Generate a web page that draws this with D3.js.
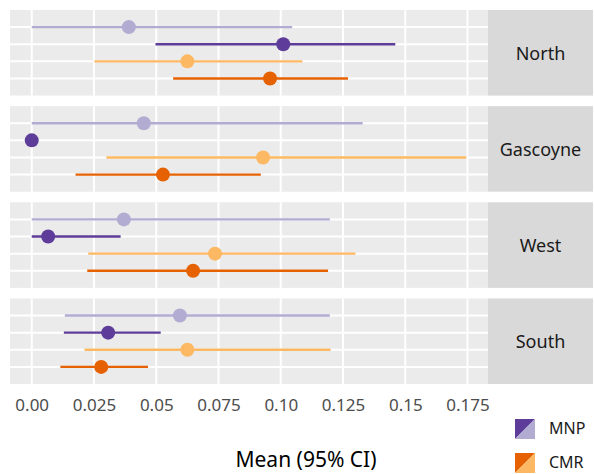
<!DOCTYPE html>
<html>
<head>
<meta charset="utf-8">
<script src="https://cdn.jsdelivr.net/npm/d3@7"></script>
<style>
  body { margin: 0; background: #fff; }
  svg { display: block; font-family: "Noto Sans", sans-serif; }
</style>
</head>
<body>
<div id="chart"></div>
<script>
// facets, top to bottom
const regions = ["North", "Gascoyne", "West", "South"];
// rows inside each facet, top to bottom
const rowKeys = ["MNP-light", "MNP-dark", "CMR-light", "CMR-dark"];
const rowColors = ["#b2abd2", "#5e3c99", "#fdb863", "#e66101"];

// one array per region: [MNP light, MNP dark, CMR light, CMR dark]
const meanValues = [
  [0.039, 0.101, 0.0625, 0.0957],
  [0.045, 0.0, 0.0929, 0.0527],
  [0.037, 0.0066, 0.0736, 0.0648],
  [0.0595, 0.0307, 0.0625, 0.0279]
];
const lowerValues = [
  [0.0, 0.0497, 0.0252, 0.0568],
  [0.0, 0.0, 0.030, 0.0176],
  [0.0, 0.0, 0.0227, 0.0223],
  [0.0133, 0.0129, 0.0212, 0.0115]
];
const upperValues = [
  [0.1046, 0.146, 0.1087, 0.127],
  [0.1329, 0.0, 0.1745, 0.092],
  [0.1197, 0.0357, 0.130, 0.119],
  [0.1197, 0.0518, 0.120, 0.0467]
];

const tickValues = [0, 0.025, 0.05, 0.075, 0.1, 0.125, 0.15, 0.175];
const tickLabels = ["0.00", "0.025", "0.05", "0.075", "0.10", "0.125", "0.15", "0.175"];

const legendLabels = ["MNP", "CMR"];
const legendDark = ["#5e3c99", "#e66101"];
const legendLight = ["#b2abd2", "#fdb863"];

const width = 594, height = 474;
const panel = {left: 10, right: 488, top: 10, bottom: 384};
const stripRight = 593;

const rows = [];
regions.forEach((r, i) => {
  rowKeys.forEach((k, j) => {
    rows.push({region: r, key: k, color: rowColors[j],
      mean: meanValues[i][j], lo: lowerValues[i][j], hi: upperValues[i][j]});
  });
});

const svg = d3.select("#chart").append("svg")
  .attr("width", width)
  .attr("height", height);

// x extent with 5% expansion like ggplot
const xmin = d3.min(rows, d => d.lo), xmax = d3.max(rows, d => d.hi);
const pad = (xmax - xmin) * 0.05;
const xScale = d3.scaleLinear()
  .domain([xmin - pad, xmax + pad])
  .range([panel.left, panel.right]);

const facetScale = d3.scaleBand()
  .domain(regions)
  .range([panel.top, panel.bottom])
  .paddingInner(0.11);

const yScale = d3.scalePoint()
  .domain(rowKeys)
  .range([0, facetScale.bandwidth()])
  .padding(1);

regions.forEach(region => {
  const g = svg.append("g")
    .attr("transform", `translate(0,${facetScale(region)})`);
  const h = facetScale.bandwidth();

  g.append("rect")
    .attr("x", panel.left).attr("y", 0)
    .attr("width", panel.right - panel.left).attr("height", h)
    .attr("fill", "#ebebeb");

  g.selectAll(".vgrid").data(tickValues).join("line")
    .attr("x1", d => xScale(d)).attr("x2", d => xScale(d))
    .attr("y1", 0).attr("y2", h)
    .attr("stroke", "#fff").attr("stroke-width", 2);

  g.selectAll(".hgrid").data(rowKeys).join("line")
    .attr("x1", panel.left).attr("x2", panel.right)
    .attr("y1", d => yScale(d)).attr("y2", d => yScale(d))
    .attr("stroke", "#fff").attr("stroke-width", 2);

  const data = rows.filter(d => d.region === region);

  g.selectAll(".ci").data(data).join("line")
    .attr("x1", d => xScale(d.lo)).attr("x2", d => xScale(d.hi))
    .attr("y1", d => yScale(d.key)).attr("y2", d => yScale(d.key))
    .attr("stroke", d => d.color).attr("stroke-width", 2.4);

  g.selectAll(".pt").data(data).join("circle")
    .attr("cx", d => xScale(d.mean)).attr("cy", d => yScale(d.key))
    .attr("r", 7)
    .attr("fill", d => d.color);

  // strip
  g.append("rect")
    .attr("x", panel.right).attr("y", 0)
    .attr("width", stripRight - panel.right).attr("height", h)
    .attr("fill", "#d9d9d9");
  g.append("text")
    .attr("x", (panel.right + stripRight) / 2).attr("y", h / 2)
    .attr("text-anchor", "middle").attr("dominant-baseline", "central")
    .attr("font-size", 18).attr("fill", "#1a1a1a")
    .text(region);
});

// x axis
const xAxis = d3.axisBottom(xScale)
  .tickValues(tickValues)
  .tickFormat((d, i) => tickLabels[i])
  .tickSize(0)
  .tickPadding(15);
const axisG = svg.append("g")
  .attr("transform", `translate(0,${panel.bottom})`)
  .call(xAxis);
axisG.select(".domain").remove();
axisG.selectAll("text")
  .attr("font-size", 17).attr("fill", "#4d4d4d")
  .attr("font-family", "Noto Sans, sans-serif");

svg.append("text")
  .attr("x", (panel.left + panel.right) / 2 + 57).attr("y", 467)
  .attr("text-anchor", "middle")
  .attr("font-size", 21).attr("fill", "#000")
  .text("Mean (95% CI)");

// legend
const legend = svg.append("g").attr("transform", "translate(515,419)");
legendLabels.forEach((lab, i) => {
  const lg = legend.append("g").attr("transform", `translate(0,${i * 34})`);
  lg.append("path").attr("d", "M0,0 L20,0 L0,20 Z").attr("fill", legendDark[i]);
  lg.append("path").attr("d", "M20,0 L20,20 L0,20 Z").attr("fill", legendLight[i]);
  lg.append("text")
    .attr("x", 34).attr("y", 9)
    .attr("dominant-baseline", "central")
    .attr("font-size", 16).attr("fill", "#1a1a1a")
    .text(lab);
});
</script>
</body>
</html>
